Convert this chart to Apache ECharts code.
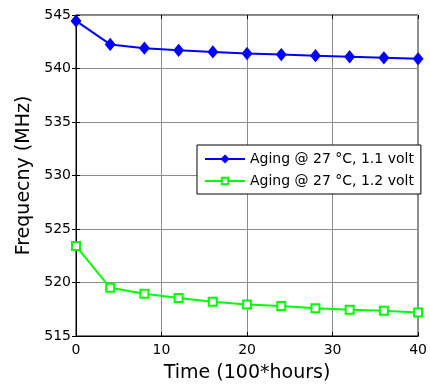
<!DOCTYPE html>
<html>
<head>
<meta charset="utf-8">
<script src="https://cdn.jsdelivr.net/npm/echarts@6/dist/echarts.min.js"></script>
<style>
  html, body { margin: 0; padding: 0; background: #fff; }
  #chart { width: 430px; height: 388px; }
</style>
</head>
<body>
<div id="chart"></div>
<script>
const hours = [0, 4, 8, 12, 16, 20, 24, 28, 32, 36, 40];
const volt11 = [544.45, 542.25, 541.9, 541.7, 541.55, 541.4, 541.3, 541.2, 541.1, 541.0, 540.9];
const volt12 = [523.4, 519.5, 518.95, 518.55, 518.2, 517.95, 517.8, 517.6, 517.45, 517.35, 517.2];
const seriesNames = ["Aging @ 27 \u00b0C, 1.1 volt", "Aging @ 27 \u00b0C, 1.2 volt"];

const chart = echarts.init(document.getElementById("chart"));
const font = "DejaVu Sans, Arial, sans-serif";

const hiddenAxis = {
  axisLine: { show: false },
  axisLabel: { show: false },
  splitLine: { show: false },
  axisTick: { show: true, inside: true, length: 4, lineStyle: { color: "#000" } },
};

chart.setOption({
  animation: false,
  grid: {
    left: 76,
    right: 11,
    top: 15,
    bottom: 51,
    show: true,
    borderColor: "#000",
    borderWidth: 1,
  },
  legend: {
    orient: "vertical",
    left: 197,
    top: 145,
    backgroundColor: "#fff",
    borderColor: "#000",
    borderWidth: 1,
    padding: [7, 7, 6, 7],
    itemGap: 8,
    itemWidth: 40,
    itemHeight: 8,
    textStyle: { fontFamily: font, fontSize: 14, color: "#000" },
    data: seriesNames,
  },
  xAxis: [
    {
      type: "value",
      min: 0,
      max: 40,
      interval: 10,
      name: "Time (100*hours)",
      nameLocation: "middle",
      nameGap: 28,
      nameTextStyle: { fontFamily: font, fontSize: 19, color: "#000" },
      axisLine: { show: true, onZero: false, lineStyle: { color: "#000" } },
      axisTick: { inside: true, length: 4, lineStyle: { color: "#000" } },
      axisLabel: { fontFamily: font, fontSize: 14, color: "#000", margin: 7 },
      splitLine: { show: true, lineStyle: { color: "#8c8c8c", width: 1 } },
    },
    Object.assign({ type: "value", position: "top", min: 0, max: 40, interval: 10 }, hiddenAxis),
  ],
  yAxis: [
    {
      type: "value",
      min: 515,
      max: 545,
      interval: 5,
      name: "Frequecny (MHz)",
      nameLocation: "middle",
      nameGap: 41,
      nameTextStyle: { fontFamily: font, fontSize: 19, color: "#000" },
      axisLine: { show: true, onZero: false, lineStyle: { color: "#000" } },
      axisTick: { inside: true, length: 4, lineStyle: { color: "#000" } },
      axisLabel: { fontFamily: font, fontSize: 14, color: "#000", margin: 5 },
      splitLine: { show: true, lineStyle: { color: "#8c8c8c", width: 1 } },
    },
    Object.assign({ type: "value", position: "right", min: 515, max: 545, interval: 5 }, hiddenAxis),
  ],
  series: [
    {
      name: seriesNames[0],
      type: "line",
      data: hours.map((h, i) => [h, volt11[i]]),
      symbol: "diamond",
      symbolSize: [9, 11],
      showAllSymbol: true,
      lineStyle: { color: "#0000ff", width: 2 },
      itemStyle: { color: "#0000ff", borderColor: "#0000ff", borderWidth: 1.5 },
    },
    {
      name: seriesNames[1],
      type: "line",
      data: hours.map((h, i) => [h, volt12[i]]),
      symbol: "emptyRect",
      symbolSize: 8,
      showAllSymbol: true,
      lineStyle: { color: "#00ff00", width: 2 },
      itemStyle: { color: "#00ff00", borderColor: "#00ff00", borderWidth: 2 },
    },
  ],
});
</script>
</body>
</html>
